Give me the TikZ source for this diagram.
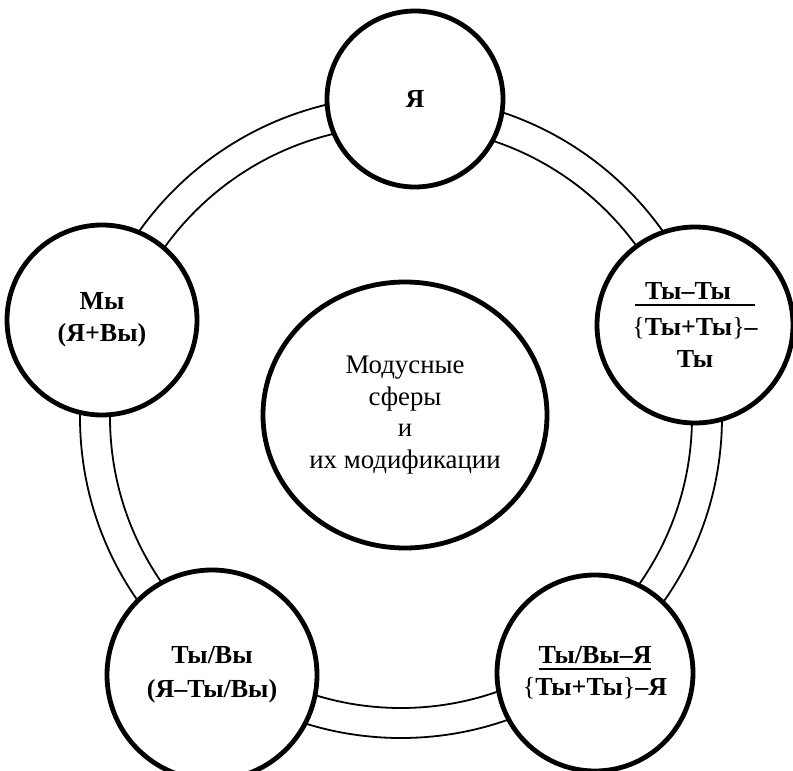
\documentclass[tikz,border=0pt]{standalone}
\usepackage{fontspec}
\setmainfont{Liberation Serif}
\usetikzlibrary{shapes.geometric}
\newcommand{\ulnote}[1]{\setbox0\hbox{#1}\rlap{\rule[-3pt]{\wd0}{1pt}}\box0}
\tikzstyle{sphere} = [draw,circle,fill=white,line width=2.4pt,inner sep=0pt,align=center,font=\fontsize{13}{16}\selectfont\bfseries]
\tikzstyle{core}   = [draw,ellipse,fill=white,line width=2.4pt,inner sep=0pt,align=center,font=\fontsize{13.4}{15.7}\selectfont,minimum width=142pt,minimum height=133pt]
\tikzstyle{ring}   = [line width=0.9pt]

\begin{document}
\begin{tikzpicture}[x=0.5pt,y=-0.5pt]
\useasboundingbox (0,0) rectangle (793,771);

% double ring behind the spheres
\coordinate (hub) at (401,417);
\draw[ring] (hub) circle (160.5pt);
\draw[ring] (hub) circle (145.5pt);

\node[sphere,minimum size=88pt]  (ya)   at (415,99)  {Я};
\node[sphere,minimum size=98pt]  (tyty) at (695,325) {\ulnote{\hspace{5pt}Ты–Ты\hspace{12pt}}\\[2pt]{\mdseries\{}Ты+Ты{\mdseries\}}–\\Ты};
\node[sphere,minimum size=98pt]  (vyya) at (595,673) {\ulnote{Ты/Вы–Я}\\{\mdseries\{}Ты+Ты{\mdseries\}}–Я};
\node[sphere,minimum size=105pt] (tyvy) at (212,675) {Ты/Вы\\[1pt](Я–Ты/Вы)};
\node[sphere,minimum size=95pt]  (my)   at (102,320) {Мы\\(Я+Вы)};

\node[core] (modus) at (405,415) {Модусные\\сферы\\и\\их модификации};

\end{tikzpicture}
\end{document}
